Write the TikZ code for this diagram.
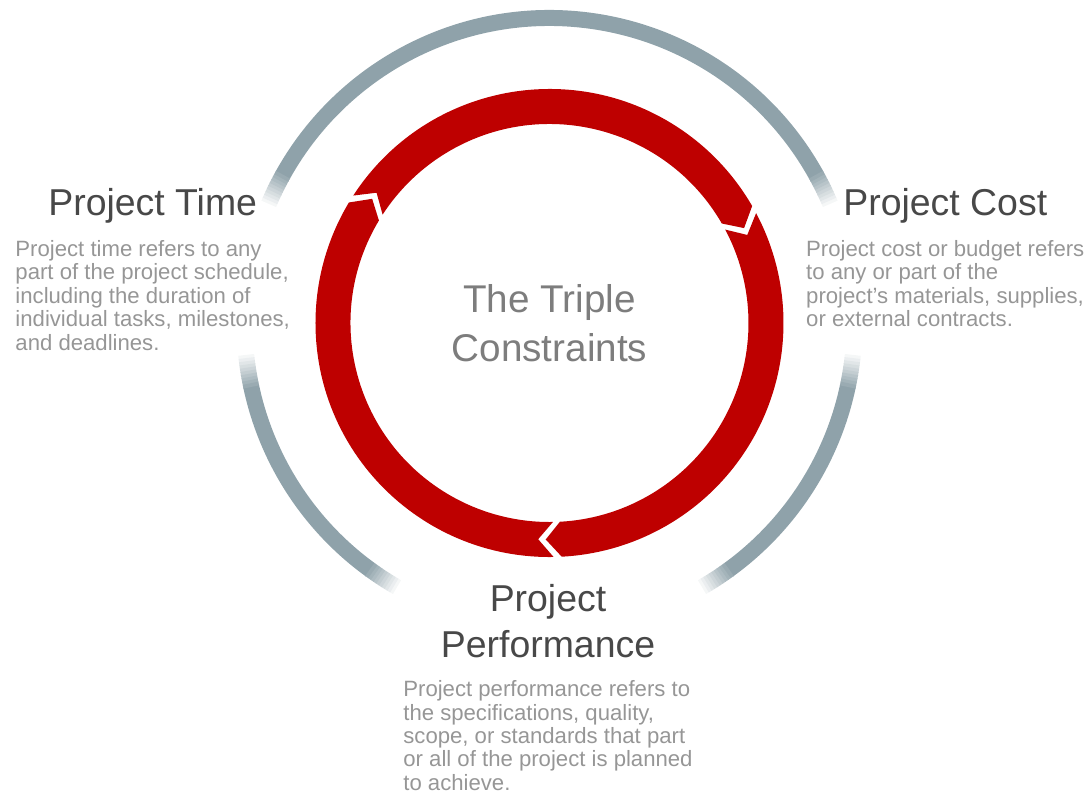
\documentclass[tikz,border=0pt]{standalone}
\usepackage{fontspec}
\setmainfont{Liberation Sans}
\usepackage{tikz}
\usetikzlibrary{positioning}

\definecolor{ringred}{RGB}{190,0,0}
\definecolor{ringgray}{RGB}{143,162,170}
\definecolor{headgray}{RGB}{72,72,72}
\definecolor{bodygray}{RGB}{150,150,150}
\definecolor{midgray}{RGB}{125,125,125}

\def\Rout{4.68}
\def\Rin{3.98}
\def\Rmid{4.33}
\def\Rgray{6.10}
\def\Tip{4}

\newcommand{\chevseg}[2]{%
  \fill[ringred] (#1:\Rout) arc[start angle=#1, end angle=#2, radius=\Rout]
    -- ({#2-\Tip}:\Rmid) -- (#2:\Rin) arc[start angle=#2, end angle=#1, radius=\Rin]
    -- ({#1-\Tip}:\Rmid) -- cycle;}

\newcommand{\grayarc}[2]{%
  \draw[grayband] ({#1+5.9}:\Rgray) arc[start angle={#1+5.9}, end angle={#2-5.9}, radius=\Rgray];
  \foreach \k in {1,...,10}{%
    \pgfmathtruncatemacro{\pc}{\k*9}
    \draw[grayband, draw=ringgray!\pc!white] ({#1+0.6*(\k-1)}:\Rgray) arc[start angle={#1+0.6*(\k-1)}, end angle={#1+0.6*\k+0.1}, radius=\Rgray];
    \draw[grayband, draw=ringgray!\pc!white] ({#2-0.6*(\k-1)}:\Rgray) arc[start angle={#2-0.6*(\k-1)}, end angle={#2-0.6*\k-0.1}, radius=\Rgray];
  }}

\begin{document}
\begin{tikzpicture}[
  grayband/.style={draw=ringgray, line width=0.32cm},
  head/.style={font=\fontsize{21.3}{26.5}\selectfont, text=headgray, inner sep=0pt, align=center},
  midtext/.style={font=\fontsize{22}{27.8}\selectfont, text=midgray, inner sep=0pt, align=center},
  body/.style={font=\fontsize{12.6}{13.3}\selectfont, text=bodygray, inner sep=0pt, align=left}]
  \useasboundingbox (-10.99,6.46) rectangle (10.83,-9.58);
  \grayarc{23}{157}
  \grayarc{186}{240}
  \grayarc{300}{354}
  \chevseg{147}{30}
  \chevseg{28}{-87}
  \chevseg{-89}{-211}
  \node[midtext] (triple) at (0,0) {The Triple\\Constraints};
  \node[head, anchor=base west] (time) at (-10.03,2.16) {Project Time};
  \node[body, below=0.34cm of time] (timetext) {Project time refers to any\\part of the project schedule,\\including the duration of\\individual tasks, milestones,\\and deadlines.};
  \node[head, anchor=base west] (cost) at (5.87,2.16) {Project Cost};
  \node[body, below=0.34cm of cost] (costtext) {Project cost or budget refers\\to any or part of the\\project's materials, supplies,\\or external contracts.};
  \node[head] (perf) at (-0.03,-5.96) {Project\\Performance};
  \node[body, below=0.44cm of perf] (perftext) {Project performance refers to\\the specifications, quality,\\scope, or standards that part\\or all of the project is planned\\to achieve.};
\end{tikzpicture}
\end{document}
